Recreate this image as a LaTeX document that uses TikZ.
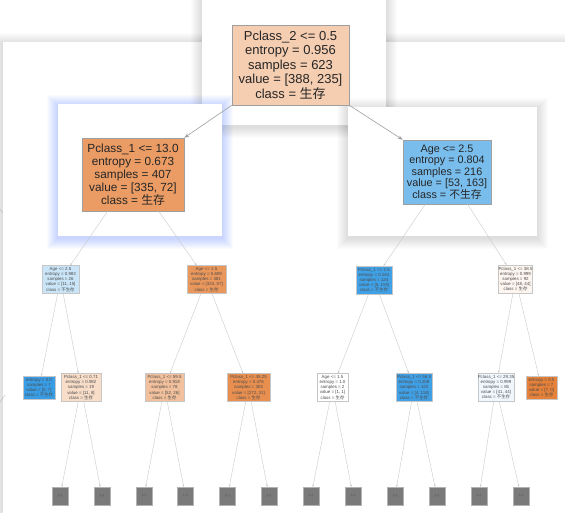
\documentclass[tikz,border=0pt]{standalone}
\usepackage{fontspec}
\setmainfont{Liberation Sans}
\newfontfamily\cjk{Noto Sans CJK SC}
\usetikzlibrary{arrows.meta}
\newcommand\zh[1]{{\cjk #1}}
\newcommand\panelshade[6]{%
  \foreach \k in {1,...,11}{\fill[#5, opacity=#6] ({#1-\k},{#2-\k+2}) rectangle ({#3+\k},{#4+\k+2});}}
\definecolor{cRoot}{HTML}{F5CDB1}
\definecolor{cL}{HTML}{EB9C64}
\definecolor{cR}{HTML}{79BDED}
\definecolor{cA}{HTML}{CAE5F8}
\definecolor{cB}{HTML}{EA975C}
\definecolor{cC}{HTML}{41A1E6}
\definecolor{cD}{HTML}{FDF5EF}
\definecolor{cBlue}{HTML}{399DE5}
\definecolor{cOrange}{HTML}{E58139}
\definecolor{cAtwo}{HTML}{F8DDC9}
\definecolor{cBone}{HTML}{F2C09C}
\definecolor{cBtwo}{HTML}{E88F50}
\definecolor{cCtwo}{HTML}{40A0E6}
\definecolor{cDone}{HTML}{F1F8FD}
\definecolor{glow}{RGB}{90,130,255}
\definecolor{gboxfill}{HTML}{7A7A7A}
\begin{document}
\begin{tikzpicture}[x=1pt,y=-1pt,
  tn/.style={draw=gray!75, line width=0.5pt, inner sep=0pt, align=center, text=black!85},
  bigroot/.style={tn, font=\fontsize{13}{14.6}\selectfont, minimum width=117pt, minimum height=80pt},
  bigleft/.style={tn, font=\fontsize{11.8}{13}\selectfont, minimum width=102pt, minimum height=73pt},
  bigright/.style={tn, font=\fontsize{10.8}{11.4}\selectfont, minimum width=88pt, minimum height=64pt},
  sm/.style={draw=gray!45, line width=0.3pt, inner sep=0pt, align=center, text=black!70,
    font=\fontsize{4.4}{5.1}\selectfont, minimum height=28pt},
  lf/.style={sm, minimum height=23pt},
  gbox/.style={fill=gboxfill, draw=gray!60, line width=0.3pt, minimum width=16pt, minimum height=18pt,
    inner sep=0pt, text=black!75, font=\fontsize{3}{3.5}\selectfont},
  edge/.style={draw=gray!45, line width=0.35pt, -{Stealth[length=2.4pt,width=1.8pt]}},
  topedge/.style={draw=gray!75, line width=0.6pt, -{Stealth[length=5pt,width=3.6pt]}}]
\useasboundingbox (0,0) rectangle (565,512);
\fill[white] (0,0) rectangle (565,512);
% big background panel
\panelshade{3}{42}{580}{530}{black}{0.012}
\fill[white] (3,42) rectangle (580,530);
% fragments of the tree beneath
\draw[gray!55, line width=0.4pt] (0,209) -- (3,213);
\draw[gray!55, line width=0.4pt] (0,402) -- (5,395);
% root panel
\panelshade{202}{-20}{386}{125}{black}{0.012}
\fill[white] (202,-20) rectangle (386,125);
% left panel with blue glow
\panelshade{58}{104}{222}{236}{glow}{0.03}
\fill[white] (58,104) rectangle (222,236);
% right panel
\panelshade{348}{107}{537}{236}{black}{0.012}
\fill[white] (348,107) rectangle (537,236);

% level 0 and 1
\node[bigroot, fill=cRoot] (root) at (290.5,65)
  {Pclass\_2 <= 0.5\\entropy = 0.956\\samples = 623\\value = [388, 235]\\class = \zh{生存}};
\node[bigleft, fill=cL] (L) at (133,174.5)
  {Pclass\_1 <= 13.0\\entropy = 0.673\\samples = 407\\value = [335, 72]\\class = \zh{生存}};
\node[bigright, fill=cR] (R) at (447,172)
  {Age <= 2.5\\entropy = 0.804\\samples = 216\\value = [53, 163]\\class = \zh{不生存}};

% level 2
\node[sm, fill=cA, minimum width=37pt] (A) at (60.5,279.5)
  {Age <= 2.5\\entropy = 0.983\\samples = 26\\value = [11, 15]\\class = \zh{不生存}};
\node[sm, fill=cB, minimum width=39pt] (B) at (206.5,279.5)
  {Age <= 1.5\\entropy = 0.609\\samples = 381\\value = [324, 57]\\class = \zh{生存}};
\node[sm, fill=cC, minimum width=36pt] (C) at (374,280)
  {Pclass\_1 <= 2.5\\entropy = 0.244\\samples = 124\\value = [5, 119]\\class = \zh{不生存}};
\node[sm, fill=cD, minimum width=34pt] (D) at (515.5,279)
  {Pclass\_1 <= 38.5\\entropy = 0.999\\samples = 92\\value = [48, 44]\\class = \zh{生存}};

% level 3
\node[lf, fill=cBlue, minimum width=32pt] (A1) at (39,387.5)
  {entropy = 0.0\\samples = 7\\value = [0, 7]\\class = \zh{不生存}};
\node[sm, fill=cAtwo, minimum width=40pt] (A2) at (81,387.5)
  {Pclass\_1 <= 0.71\\entropy = 0.982\\samples = 19\\value = [11, 8]\\class = \zh{生存}};
\node[sm, fill=cBone, minimum width=39pt] (B1) at (164.5,387.5)
  {Pclass\_1 <= 59.5\\entropy = 0.918\\samples = 78\\value = [52, 26]\\class = \zh{生存}};
\node[sm, fill=cBtwo, minimum width=43pt] (B2) at (248.5,387.5)
  {Pclass\_1 <= 45.25\\entropy = 0.476\\samples = 303\\value = [272, 31]\\class = \zh{生存}};
\node[sm, fill=white, minimum width=31pt] (C1) at (332.5,387.5)
  {Age <= 1.5\\entropy = 1.0\\samples = 2\\value = [1, 1]\\class = \zh{生存}};
\node[sm, fill=cCtwo, minimum width=36pt] (C2) at (414,387.5)
  {Pclass\_1 <= 56.5\\entropy = 0.208\\samples = 122\\value = [4, 118]\\class = \zh{不生存}};
\node[sm, fill=cDone, minimum width=36pt] (D1) at (496,387)
  {Pclass\_1 <= 29.35\\entropy = 0.999\\samples = 85\\value = [41, 44]\\class = \zh{不生存}};
\node[lf, fill=cOrange, minimum width=31pt] (D2) at (541.5,387.5)
  {entropy = 0.0\\samples = 7\\value = [7, 0]\\class = \zh{生存}};

% level 4 (truncated)
\foreach \n/\x in {g1/60,g2/102,g3/144,g4/185.5,g5/227.5,g6/269,g7/311,g8/353,g9/395,g10/437,g11/479,g12/521}
  \node[gbox] (\n) at (\x,496) {(...)};

% edges
\draw[topedge] (root.south west) -- (L.north east);
\draw[topedge] (root.south east) -- (R.north west);
\draw[edge] (L) -- (A);
\draw[edge] (L) -- (B);
\draw[edge] (R) -- (C);
\draw[edge] (R) -- (D);
\draw[edge] (A) -- (A1);
\draw[edge] (A) -- (A2);
\draw[edge] (B) -- (B1);
\draw[edge] (B) -- (B2);
\draw[edge] (C) -- (C1);
\draw[edge] (C) -- (C2);
\draw[edge] (D) -- (D1);
\draw[edge] (D) -- (D2);
\draw[edge] (A2) -- (g1);
\draw[edge] (A2) -- (g2);
\draw[edge] (B1) -- (g3);
\draw[edge] (B1) -- (g4);
\draw[edge] (B2) -- (g5);
\draw[edge] (B2) -- (g6);
\draw[edge] (C1) -- (g7);
\draw[edge] (C1) -- (g8);
\draw[edge] (C2) -- (g9);
\draw[edge] (C2) -- (g10);
\draw[edge] (D1) -- (g11);
\draw[edge] (D1) -- (g12);
\end{tikzpicture}
\end{document}
